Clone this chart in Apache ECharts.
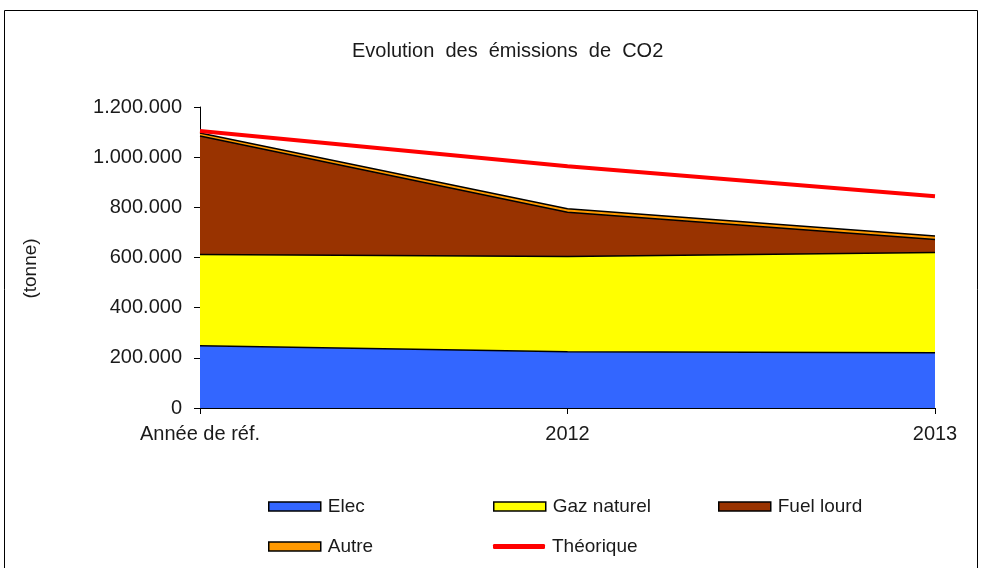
<!DOCTYPE html>
<html>
<head>
<meta charset="utf-8">
<script src="https://cdn.jsdelivr.net/npm/echarts@6/dist/echarts.min.js"></script>
<style>
  html, body { margin: 0; padding: 0; background: #fff; }
  #chart { width: 981px; height: 568px; }
</style>
</head>
<body>
<div id="chart"></div>
<script>
// Emissions de CO2 par source d'énergie (tonnes)
const categories = ['Année de réf.', '2012', '2013'];
const elec = [248000, 224000, 220000];
const gazNaturel = [364000, 380000, 400000];
const fuelLourd = [472000, 176000, 52000];
const autre = [12000, 14000, 14000];
const theorique = [1104000, 964000, 844000];
const yTicks = [0, 200000, 400000, 600000, 800000, 1000000, 1200000];

const FONT = '"Liberation Sans", Arial, sans-serif';
const TXT = '#1a1a1a';

const COLORS = {
  'Elec': '#3366FF',
  'Gaz naturel': '#FFFF00',
  'Fuel lourd': '#993300',
  'Autre': '#FF9900'
};

function fmt(v) {
  return String(Math.round(v)).replace(/\B(?=(\d{3})+(?!\d))/g, '.');
}

function areaSeries(name, data) {
  const color = COLORS[name];
  return {
    name: name,
    type: 'line',
    stack: 'total',
    data: data,
    symbol: 'none',
    lineStyle: { color: '#000', width: 1.5 },
    areaStyle: { color: color, opacity: 1 },
    itemStyle: { color: color },
    emphasis: { disabled: true }
  };
}

// One legend block per entry so each sits in its own column
function areaLegend(name, left, top) {
  return {
    data: [{
      name: name,
      icon: 'rect',
      itemStyle: { color: COLORS[name], borderColor: '#000', borderWidth: 1.5 }
    }],
    left: left,
    top: top,
    padding: 0,
    itemWidth: 52,
    itemHeight: 9,
    itemGap: 6,
    textStyle: { fontFamily: FONT, fontSize: 19, color: TXT, padding: [0, 0, 0, 2] },
    selectedMode: false
  };
}

const chart = echarts.init(document.getElementById('chart'), null, { renderer: 'canvas' });
chart.setOption({
  animation: false,
  backgroundColor: '#fff',
  title: {
    text: 'Evolution  des  émissions  de  CO2',
    left: 347,
    top: 36,
    textStyle: { fontFamily: FONT, fontSize: 20, fontWeight: 'normal', color: TXT }
  },
  graphic: [{
    type: 'rect',
    shape: { x: 4.5, y: 10.5, width: 973, height: 580 },
    style: { fill: 'none', stroke: '#000', lineWidth: 1 },
    silent: true
  }],
  legend: [
    areaLegend('Elec', 268, 497),
    areaLegend('Gaz naturel', 493, 497),
    areaLegend('Fuel lourd', 718, 497),
    areaLegend('Autre', 268, 537),
    {
      data: [{
        name: 'Théorique',
        icon: 'roundRect',
        itemStyle: { color: '#FF0000', borderWidth: 0 }
      }],
      left: 493,
      top: 537,
      padding: 0,
      itemWidth: 52,
      itemHeight: 5,
      itemGap: 6,
      textStyle: { fontFamily: FONT, fontSize: 19, color: TXT, padding: [0, 0, 0, 2] },
      selectedMode: false
    }
  ],
  grid: { left: 200, right: 46, top: 107, bottom: 160, containLabel: false },
  xAxis: {
    type: 'category',
    data: categories,
    boundaryGap: false,
    axisLine: { lineStyle: { color: '#000', width: 1 } },
    axisTick: { show: true, alignWithLabel: true, length: 6, lineStyle: { color: '#000' } },
    axisLabel: { fontFamily: FONT, fontSize: 20, color: TXT, margin: 16 }
  },
  yAxis: {
    type: 'value',
    min: yTicks[0],
    max: yTicks[yTicks.length - 1],
    interval: yTicks[1] - yTicks[0],
    name: '(tonne)',
    nameLocation: 'middle',
    nameRotate: 90,
    nameGap: 160,
    nameTextStyle: { fontFamily: FONT, fontSize: 19, color: TXT, padding: [0, 22, 0, 0] },
    axisLine: { show: true, lineStyle: { color: '#000', width: 1 } },
    axisTick: { show: true, length: 6, lineStyle: { color: '#000' } },
    splitLine: { show: false },
    axisLabel: { fontFamily: FONT, fontSize: 20, color: TXT, margin: 18, formatter: fmt }
  },
  series: [
    areaSeries('Elec', elec),
    areaSeries('Gaz naturel', gazNaturel),
    areaSeries('Fuel lourd', fuelLourd),
    areaSeries('Autre', autre),
    {
      name: 'Théorique',
      type: 'line',
      data: theorique,
      symbol: 'none',
      lineStyle: { color: '#FF0000', width: 4 },
      itemStyle: { color: '#FF0000' },
      emphasis: { disabled: true },
      z: 5
    }
  ]
});
</script>
</body>
</html>
